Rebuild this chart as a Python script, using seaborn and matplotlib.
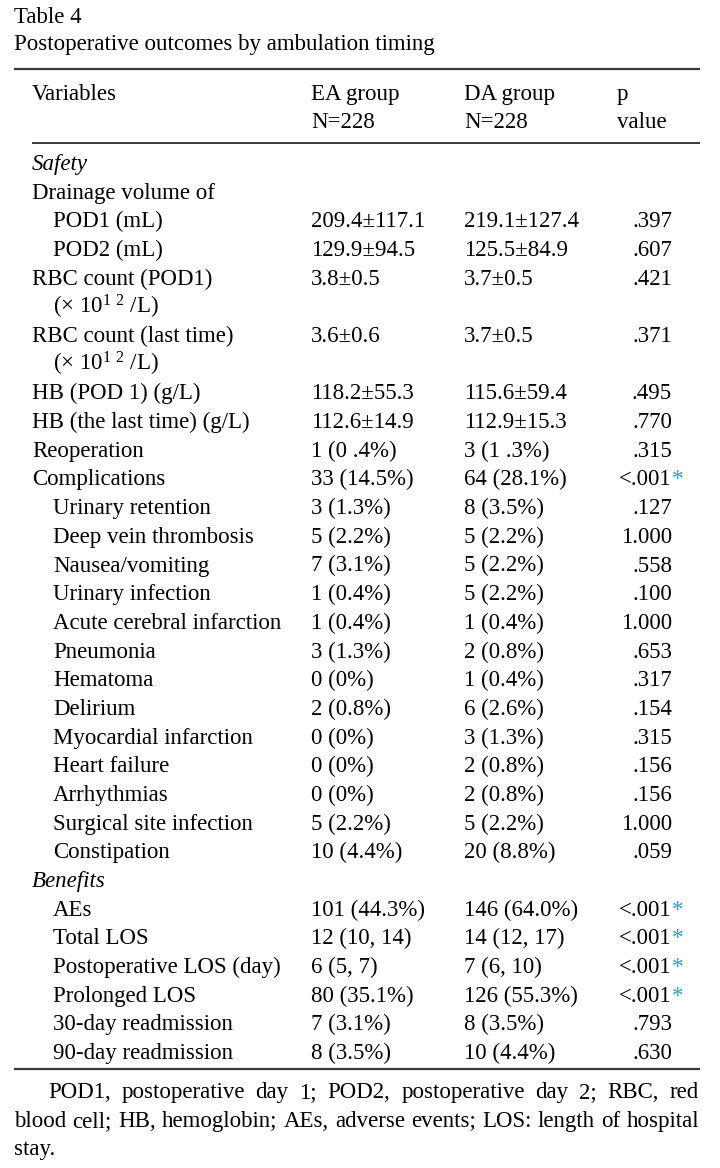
import matplotlib
matplotlib.use("Agg")
import matplotlib.pyplot as plt
import seaborn as sns

# table content
title = "Table 4"
subtitle = "Postoperative outcomes by ambulation timing"
headers = [("Variables", ""), ("EA group", "N=228"), ("DA group", "N=228"), ("p", "value")]

unit = r"(× 10$^{1\ 2}$ /L)"
labels = ["Safety", "Drainage volume of", "POD1 (mL)", "POD2 (mL)", "RBC count (POD1)", unit,
          "RBC count (last time)", unit, "HB (POD 1) (g/L)", "HB (the last time) (g/L)",
          "Reoperation", "Complications", "Urinary retention", "Deep vein thrombosis",
          "Nausea/vomiting", "Urinary infection", "Acute cerebral infarction", "Pneumonia",
          "Hematoma", "Delirium", "Myocardial infarction", "Heart failure", "Arrhythmias",
          "Surgical site infection", "Constipation", "Benefits", "AEs", "Total LOS",
          "Postoperative LOS (day)", "Prolonged LOS", "30-day readmission", "90-day readmission"]
indent = [0, 0, 1, 1, 0, 1, 0, 1, 0, 0, 0, 0, 1, 1, 1, 1, 1, 1, 1, 1, 1, 1, 1, 1, 1,
          0, 1, 1, 1, 1, 1, 1]
italic_rows = ["Safety", "Benefits"]
ea = ["", "", "209.4±117.1", "129.9±94.5", "3.8±0.5", "", "3.6±0.6", "", "118.2±55.3",
      "112.6±14.9", "1 (0 .4%)", "33 (14.5%)", "3 (1.3%)", "5 (2.2%)", "7 (3.1%)",
      "1 (0.4%)", "1 (0.4%)", "3 (1.3%)", "0 (0%)", "2 (0.8%)", "0 (0%)", "0 (0%)",
      "0 (0%)", "5 (2.2%)", "10 (4.4%)", "", "101 (44.3%)", "12 (10, 14)", "6 (5, 7)",
      "80 (35.1%)", "7 (3.1%)", "8 (3.5%)"]
da = ["", "", "219.1±127.4", "125.5±84.9", "3.7±0.5", "", "3.7±0.5", "", "115.6±59.4",
      "112.9±15.3", "3 (1 .3%)", "64 (28.1%)", "8 (3.5%)", "5 (2.2%)", "5 (2.2%)",
      "5 (2.2%)", "1 (0.4%)", "2 (0.8%)", "1 (0.4%)", "6 (2.6%)", "3 (1.3%)", "2 (0.8%)",
      "2 (0.8%)", "5 (2.2%)", "20 (8.8%)", "", "146 (64.0%)", "14 (12, 17)", "7 (6, 10)",
      "126 (55.3%)", "8 (3.5%)", "10 (4.4%)"]
pval = ["", "", ".397", ".607", ".421", "", ".371", "", ".495", ".770", ".315", "<.001",
        ".127", "1.000", ".558", ".100", "1.000", ".653", ".317", ".154", ".315", ".156",
        ".156", "1.000", ".059", "", "<.001", "<.001", "<.001", "<.001", ".793", ".630"]
footnote = ["POD1, postoperative day 1; POD2, postoperative day 2; RBC, red",
            "blood cell; HB, hemoglobin; AEs, adverse events; LOS: length of hospital",
            "stay."]

sns.set_theme(style="white")
plt.rcParams["font.family"] = ["Liberation Serif", "DejaVu Serif"]
plt.rcParams["mathtext.fontset"] = "custom"
plt.rcParams["mathtext.rm"] = "Liberation Serif"
plt.rcParams["mathtext.default"] = "regular"

fs = 16.5
ink = "#000000"
rule = "#3a3a3a"
star_color = "#2f9fc8"

fig = plt.figure(figsize=(7.2, 11.68), dpi=100)
ax = fig.add_axes([0, 0, 1, 1])
ax.set_xlim(0, 720)
ax.set_ylim(1168, 0)
ax.axis("off")

# title
ax.text(14, 23, title, fontsize=fs, color=ink, va="baseline")
ax.text(14, 50, subtitle, fontsize=fs, color=ink, va="baseline")

# rules
ax.hlines(69, 14, 700, color=rule, lw=1.6)
ax.hlines(143, 32, 700, color=rule, lw=1.4)
ax.hlines(1069, 14, 700, color=rule, lw=1.6)

# header
col_x = [32, 311, 464, 617]
for x, (h1, h2) in zip(col_x, headers):
    ax.text(x, 100, h1, fontsize=fs, color=ink, va="baseline")
    ax.text(x, 128, h2, fontsize=fs, color=ink, va="baseline")

# body
y0, dy = 170, 28.68
p_right = 672
for i, lab in enumerate(labels):
    y = y0 + i * dy
    style = "italic" if lab in italic_rows else "normal"
    ax.text(32 + 21 * indent[i], y, lab, fontsize=fs, color=ink, va="baseline", style=style)
    ax.text(col_x[1], y, ea[i], fontsize=fs, color=ink, va="baseline")
    ax.text(col_x[2], y, da[i], fontsize=fs, color=ink, va="baseline")
    t = ax.text(p_right, y, pval[i], fontsize=fs, color=ink, va="baseline", ha="right")
    if pval[i].startswith("<"):
        ax.annotate("*", xy=(1, 0), xycoords=t, ha="left", va="bottom",
                    fontsize=fs, color=star_color)

# footnote, justified lines
fig.canvas.draw()
renderer = fig.canvas.get_renderer()
foot_y = [1098, 1127, 1155]
foot_left = [48, 14, 14]
right_edge = 699
for k, line in enumerate(footnote):
    words = line.split(" ")
    if k == len(footnote) - 1:
        ax.text(foot_left[k], foot_y[k], line, fontsize=fs, color=ink, va="baseline")
        continue
    arts = [ax.text(0, foot_y[k], w, fontsize=fs, color=ink, va="baseline") for w in words]
    widths = [a.get_window_extent(renderer).width for a in arts]
    gap = (right_edge - foot_left[k] - sum(widths)) / (len(words) - 1)
    x = foot_left[k]
    for a, w in zip(arts, widths):
        a.set_x(x)
        x += w + gap

fig.savefig("out.png", dpi=100, facecolor="white")
